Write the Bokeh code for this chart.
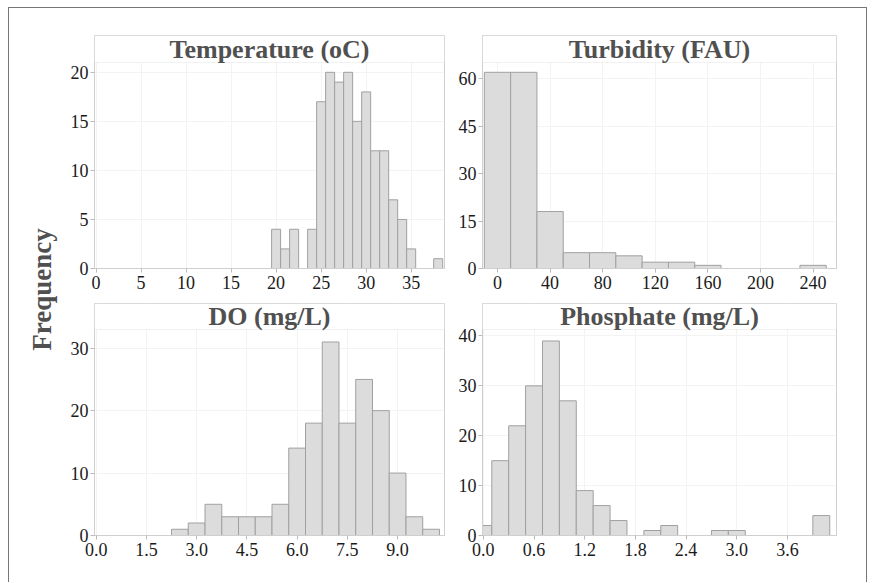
from bokeh.plotting import figure
from bokeh.layouts import row, column
from bokeh.models import Range1d, BoxAnnotation, Label, NumeralTickFormatter
from bokeh.embed import file_html
from bokeh.resources import INLINE

# ---------------- data ----------------
temp_title = "Temperature (oC)"
temp_centers = [20, 21, 22, 23, 24, 25, 26, 27, 28, 29, 30, 31, 32, 33, 34, 35, 36, 37, 38]
temp_counts = [4, 2, 4, 0, 4, 17, 20, 19, 20, 15, 18, 12, 12, 7, 5, 2, 0, 0, 1]
temp_binwidth = 1
temp_xticks = [0, 5, 10, 15, 20, 25, 30, 35]
temp_yticks = [0, 5, 10, 15, 20]

turb_title = "Turbidity (FAU)"
turb_centers = [0, 20, 40, 60, 80, 100, 120, 140, 160, 180, 200, 220, 240]
turb_counts = [62, 62, 18, 5, 5, 4, 2, 2, 1, 0, 0, 0, 1]
turb_binwidth = 20
turb_xticks = [0, 40, 80, 120, 160, 200, 240]
turb_yticks = [0, 15, 30, 45, 60]

do_title = "DO (mg/L)"
do_centers = [2.5, 3.0, 3.5, 4.0, 4.5, 5.0, 5.5, 6.0, 6.5, 7.0, 7.5, 8.0, 8.5, 9.0, 9.5, 10.0]
do_counts = [1, 2, 5, 3, 3, 3, 5, 14, 18, 31, 18, 25, 20, 10, 3, 1]
do_binwidth = 0.5
do_xticks = [0.0, 1.5, 3.0, 4.5, 6.0, 7.5, 9.0]
do_yticks = [0, 10, 20, 30]

phos_title = "Phosphate (mg/L)"
phos_centers = [0.0, 0.2, 0.4, 0.6, 0.8, 1.0, 1.2, 1.4, 1.6, 1.8, 2.0, 2.2, 2.4, 2.6, 2.8, 3.0, 3.2, 3.4, 3.6, 3.8, 4.0]
phos_counts = [2, 15, 22, 30, 39, 27, 9, 6, 3, 0, 1, 2, 0, 0, 1, 1, 0, 0, 0, 0, 4]
phos_binwidth = 0.2
phos_xticks = [0.0, 0.6, 1.2, 1.8, 2.4, 3.0, 3.6]
phos_yticks = [0, 10, 20, 30, 40]

y_label = "Frequency"

# ---------------- style ----------------
SERIF = "Liberation Serif"
FRAME_COL = "#cfcfcf"
GRID_COL = "#f3f3f3"
BAR_FILL = "#dcdcdc"
BAR_LINE = "#a0a0a0"
TITLE_COL = "#505050"


def panel(title, centers, counts, binw, xticks, yticks, xr, ytop,
          fig_w, fig_h, mbl, mbr, mbt, mbb, frame_h, strip_h, fmt=None):
    plot_h = frame_h - strip_h
    y_end = ytop * frame_h / plot_h
    p = figure(width=fig_w, height=fig_h, x_range=Range1d(*xr),
               y_range=Range1d(0, y_end), output_backend="svg",
               toolbar_location=None, min_border_left=mbl,
               min_border_right=mbr, min_border_top=mbt, min_border_bottom=mbb)
    p.background_fill_color = "white"
    p.border_fill_color = "white"
    p.outline_line_color = FRAME_COL
    p.outline_line_width = 1

    lefts = [c - binw / 2 for c, n in zip(centers, counts) if n > 0]
    rights = [c + binw / 2 for c, n in zip(centers, counts) if n > 0]
    tops = [n for n in counts if n > 0]
    p.quad(left=lefts, right=rights, bottom=0, top=tops,
           fill_color=BAR_FILL, line_color=BAR_LINE, line_width=1)

    p.xaxis.ticker = xticks
    p.yaxis.ticker = yticks
    p.xgrid.ticker = xticks
    p.ygrid.ticker = yticks
    p.grid.grid_line_color = GRID_COL
    if fmt:
        p.xaxis.formatter = NumeralTickFormatter(format=fmt)
    p.axis.axis_line_color = FRAME_COL
    p.axis.major_tick_line_color = "#bbbbbb"
    p.axis.major_tick_out = 4
    p.axis.major_tick_in = 0
    p.axis.minor_tick_line_color = None
    p.axis.major_label_text_font = SERIF
    p.axis.major_label_text_font_size = "18px"
    p.axis.major_label_text_color = "#1a1a1a"
    p.yaxis.major_label_standoff = 2
    p.xaxis.major_label_standoff = 3

    box = BoxAnnotation(bottom=ytop, top=y_end, left=xr[0], right=xr[1],
                        fill_color="white", fill_alpha=1.0,
                        line_color=FRAME_COL, line_width=1)
    p.add_layout(box)
    lab = Label(x=(xr[0] + xr[1]) / 2, y=(ytop + y_end) / 2, text=title,
                text_align="center", text_baseline="middle",
                text_font=SERIF, text_font_style="bold",
                text_font_size="26px", text_color=TITLE_COL)
    p.add_layout(lab)
    return p


LW, RW = 392, 414
TH, BH = 287, 279

tl = panel(temp_title, temp_centers, temp_counts, temp_binwidth, temp_xticks, temp_yticks,
           (-0.17, 38.7), 21.0, LW, TH, 34, 8, 27, 27, 233, 27)
tr = panel(turb_title, turb_centers, turb_counts, turb_binwidth, turb_xticks, turb_yticks,
           (-11.4, 257.8), 65.1, RW, TH, 30, 30, 27, 27, 233, 27)
bl = panel(do_title, do_centers, do_counts, do_binwidth, do_xticks, do_yticks,
           (-0.05, 10.4), 33.0, LW, BH, 34, 8, 8, 39, 232, 26, fmt="0.0")
br = panel(phos_title, phos_centers, phos_counts, phos_binwidth, phos_xticks, phos_yticks,
           (-0.01, 4.18), 41.3, RW, BH, 30, 30, 8, 39, 232, 26, fmt="0.0")

fq = figure(width=51, height=TH + BH, x_range=Range1d(0, 1), y_range=Range1d(0, 1),
            x_axis_type=None, y_axis_type=None, output_backend="svg",
            toolbar_location=None, min_border=0)
fq.outline_line_color = None
fq.grid.visible = False
fq.add_layout(Label(x=0.647, y=0.5035, text=y_label, angle=1.5707963,
                    text_align="center", text_baseline="middle",
                    text_font=SERIF, text_font_style="bold",
                    text_font_size="27px", text_color=TITLE_COL))

p = row(fq, column(tl, bl), column(tr, br),
        styles={"border-top": "1px solid #777777",
                "border-left": "1px solid #777777",
                "border-right": "1px solid #777777",
                "padding-bottom": "8px",
                "margin": "7px 0px 0px 8px"})

open("out.html", "w").write(file_html(p, INLINE))
